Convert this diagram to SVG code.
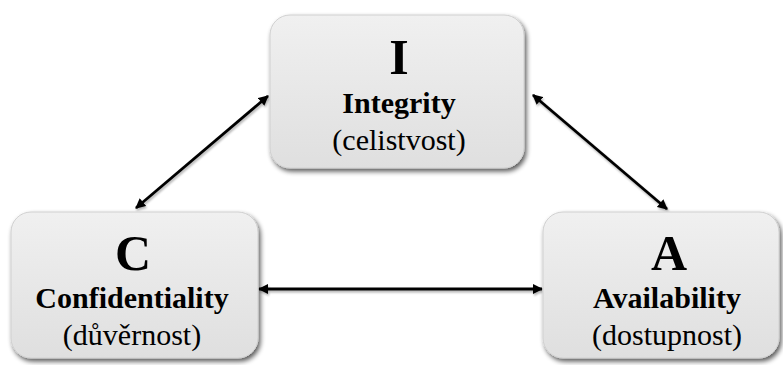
<svg xmlns="http://www.w3.org/2000/svg" width="783" height="365" viewBox="0 0 783 365">
  <defs>
    <linearGradient id="boxFill" x1="0" y1="0" x2="0" y2="1">
      <stop offset="0" stop-color="#f0f0f0"/>
      <stop offset="1" stop-color="#dfdfdf"/>
    </linearGradient>
    <filter id="shadow" x="-10%" y="-10%" width="125%" height="130%">
      <feGaussianBlur in="SourceAlpha" stdDeviation="2.5"/>
      <feOffset dx="2" dy="3" result="b"/>
      <feComponentTransfer><feFuncA type="linear" slope="0.65"/></feComponentTransfer>
      <feMerge><feMergeNode/><feMergeNode in="SourceGraphic"/></feMerge>
    </filter>
    <filter id="lshadow" x="-10%" y="-10%" width="120%" height="120%">
      <feGaussianBlur in="SourceAlpha" stdDeviation="1.2"/>
      <feOffset dx="1" dy="1.5"/>
      <feComponentTransfer><feFuncA type="linear" slope="0.3"/></feComponentTransfer>
      <feMerge><feMergeNode/><feMergeNode in="SourceGraphic"/></feMerge>
    </filter>
    <marker id="arrow" viewBox="0 0 10 10" refX="9" refY="5" markerWidth="3.6" markerHeight="3.6" orient="auto-start-reverse">
      <path d="M0,0 L10,5 L0,10 z" fill="#000"/>
    </marker>
  </defs>
  <style>
    .box { fill: url(#boxFill); stroke: #d0d0d0; stroke-width: 1; filter: url(#shadow); }
    text { font-family: 'Liberation Serif', serif; text-anchor: middle; fill: #000; }
    .big { font-weight: bold; font-size: 50px; }
    .name { font-weight: bold; font-size: 30px; }
    .cz { font-weight: normal; font-size: 30px; }
    .conn { stroke: #000; stroke-width: 2.8; fill: none; marker-start: url(#arrow); marker-end: url(#arrow); }
  </style>
  <rect width="783" height="365" fill="#ffffff"/>

  <g id="connectors" filter="url(#lshadow)">
    <line class="conn" x1="268" y1="96" x2="136" y2="208"/>
    <line class="conn" x1="533" y1="95" x2="667" y2="209"/>
    <line class="conn" x1="259" y1="289" x2="542" y2="289"/>
  </g>

  <g id="node-I">
    <rect class="box" x="270" y="15" width="254" height="153" rx="20" ry="20"/>
    <text class="big" x="399" y="74" font-family="Liberation Serif">I</text>
    <text class="name" x="399" y="113" font-family="Liberation Serif">Integrity</text>
    <text class="cz" x="399" y="150" font-family="Liberation Serif">(celistvost)</text>
  </g>

  <g id="node-C">
    <rect class="box" x="11" y="212" width="247" height="146" rx="20" ry="20"/>
    <text class="big" x="133" y="270" font-family="Liberation Serif">C</text>
    <text class="name" x="132" y="308" font-family="Liberation Serif">Confidentiality</text>
    <text class="cz" x="132" y="345" font-family="Liberation Serif">(důvěrnost)</text>
  </g>

  <g id="node-A">
    <rect class="box" x="543" y="212" width="236" height="146" rx="20" ry="20"/>
    <text class="big" x="669" y="270" font-family="Liberation Serif">A</text>
    <text class="name" x="667" y="308" font-family="Liberation Serif">Availability</text>
    <text class="cz" x="667" y="345" font-family="Liberation Serif">(dostupnost)</text>
  </g>
</svg>
